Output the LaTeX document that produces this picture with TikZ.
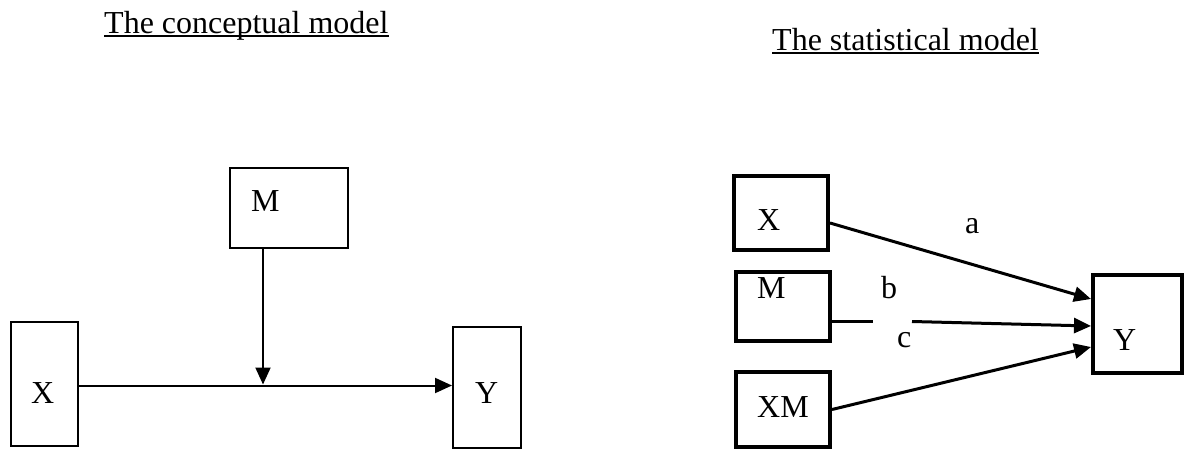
\documentclass[tikz,border=0pt]{standalone}
\usepackage{fontspec}
\setmainfont{Liberation Serif}
\usetikzlibrary{arrows.meta,calc}
\begin{document}
\begin{tikzpicture}[x=1pt,y=-1pt,
  txt/.style={font=\fontsize{32}{38}\selectfont, inner sep=0pt, anchor=base west},
  lbox/.style={draw, line width=2pt, inner sep=0pt},
  rbox/.style={draw, line width=4pt, inner sep=0pt},
  larr/.style={line width=2pt, -{Triangle[length=17pt,width=15pt]}},
  rarr/.style={line width=3pt, -{Triangle[length=17pt,width=15pt]}},
  rline/.style={line width=3pt}]
\useasboundingbox (0,0) rectangle (1187,450);
% titles
\node[txt] (t1) at (104,33) {The conceptual model};
\draw[line width=2pt] ([yshift=-3pt]t1.base west) -- ([yshift=-3pt]t1.base east);
\node[txt] (t2) at (772,50) {The statistical model};
\draw[line width=2pt] ([yshift=-3pt]t2.base west) -- ([yshift=-3pt]t2.base east);
% conceptual model
\node[lbox, minimum width=67pt, minimum height=124pt] (lX) at (44.5,384) {};
\node[lbox, minimum width=68pt, minimum height=121pt] (lY) at (487,387.5) {};
\node[lbox, minimum width=118pt, minimum height=80pt] (lM) at (289,208) {};
\node[txt] (lXt) at (31,403) {X};
\node[txt] (lYt) at (475,403) {Y};
\node[txt] (lMt) at (251,211) {M};
\coordinate (mid) at (263,385.5);
\draw[larr] (lX.east |- mid) -- (lY.west |- mid);
\draw[larr, shorten >=1pt] (lM.south -| mid) -- (mid);
% statistical model
\node[rbox, minimum width=94pt, minimum height=74pt] (rX) at (781,213) {};
\node[rbox, minimum width=94pt, minimum height=69pt] (rM) at (783,306.5) {};
\node[rbox, minimum width=94pt, minimum height=75pt] (rXM) at (783,409.5) {};
\node[rbox, minimum width=89pt, minimum height=98pt] (rY) at (1137.5,324) {};
\node[txt] (rXt) at (757,230) {X};
\node[txt] (rMt) at (757,298) {M};
\node[txt] (rXMt) at (757,417) {XM};
\node[txt] (rYt) at (1113,350) {Y};
\node[txt] (la) at (965,233) {a};
\node[txt] (lb) at (881,298) {b};
\node[txt] (lc) at (897,347) {c};
\coordinate (g1) at (873,321);
\coordinate (g2) at (912,321.5);
\draw[rarr] ([yshift=-10pt]rX.east) -- ([yshift=25pt]rY.west);
\draw[rline] ([yshift=-14.5pt]rM.east) -- (g1);
\draw[rarr] (g2) -- ([yshift=-2pt]rY.west);
\draw[rarr] (rXM.east) -- ([yshift=-23pt]rY.west);
\end{tikzpicture}
\end{document}
